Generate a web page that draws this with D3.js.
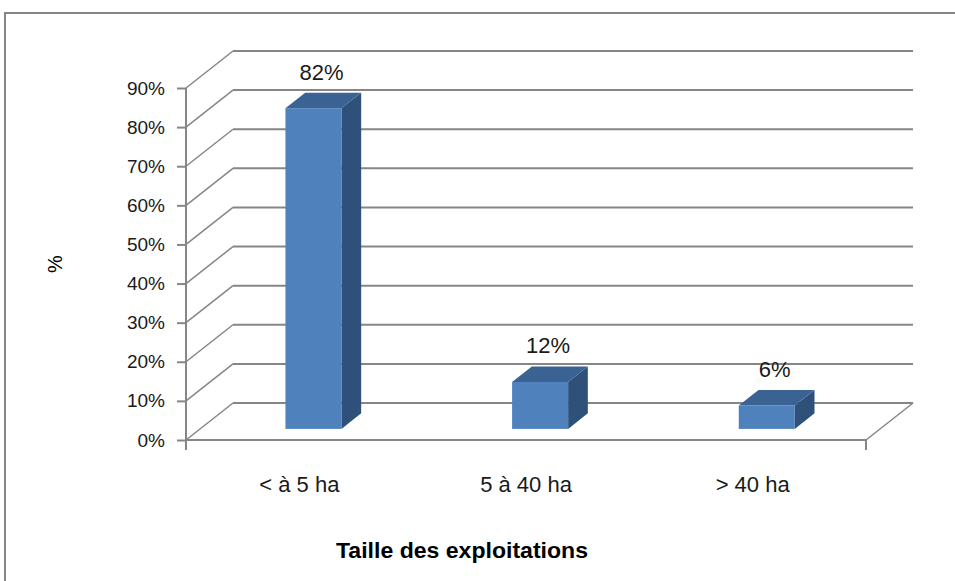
<!DOCTYPE html>
<html><head><meta charset="utf-8">
<script src="https://cdn.jsdelivr.net/npm/d3@7"></script>
<style>body{margin:0;background:#fff}svg{display:block}</style>
</head><body>
<svg id="c" width="955" height="581"></svg>
<script>
const categories = ["< à 5 ha", "5 à 40 ha", "> 40 ha"];
const values = [0.82, 0.12, 0.06];
const valueLabels = ["82%", "12%", "6%"];
const yTicks = [0, 0.1, 0.2, 0.3, 0.4, 0.5, 0.6, 0.7, 0.8, 0.9];
const xTitle = "Taille des exploitations";
const yTitle = "%";

const svg = d3.select("#c");
const grid = "#868686";
const font = "'Liberation Sans', Arial, sans-serif";

// outer border
svg.append("rect").attr("x",5).attr("y",13).attr("width",1000).attr("height",700)
  .attr("fill","none").attr("stroke",grid).attr("stroke-width",2);

const x = d3.scaleBand().domain(categories).range([186,866]).paddingInner(0).paddingOuter(0);
const y = d3.scaleLinear().domain([0,0.9]).range([440,88]);
const DX = 47, DY = -37;           // depth offset of back wall
const t0 = 0.3, t1 = 0.72;         // bar depth fractions
const barW = 56;

const g = svg.append("g");
yTicks.forEach(v=>{
  g.append("line").attr("x1",x.range()[0]+DX).attr("x2",x.range()[1]+DX)
   .attr("y1",y(v)+DY).attr("y2",y(v)+DY).attr("stroke",grid).attr("stroke-width",2);
  g.append("line").attr("x1",x.range()[0]).attr("x2",x.range()[0]+DX)
   .attr("y1",y(v)).attr("y2",y(v)+DY).attr("stroke",grid).attr("stroke-width",1.5);
});
g.append("line").attr("x1",x.range()[0]).attr("x2",x.range()[1]).attr("y1",y(0)).attr("y2",y(0))
 .attr("stroke",grid).attr("stroke-width",2);
g.append("line").attr("x1",x.range()[1]).attr("x2",x.range()[1]+DX).attr("y1",y(0)).attr("y2",y(0)+DY)
 .attr("stroke",grid).attr("stroke-width",1.5);
g.append("line").attr("x1",x.range()[1]).attr("x2",x.range()[1]).attr("y1",y(0)).attr("y2",y(0)+10)
 .attr("stroke",grid).attr("stroke-width",2);

const yAxis = d3.axisLeft(y).tickValues(yTicks).tickFormat(d3.format(".0%")).tickSize(9).tickPadding(12);
const ya = svg.append("g").attr("transform",`translate(${x.range()[0]},0)`).call(yAxis);
ya.select(".domain").attr("stroke",grid).attr("stroke-width",2).attr("d",`M0,${y(0.9)}V${y(0)+10}`);
ya.selectAll(".tick line").attr("stroke",grid).attr("stroke-width",2);
ya.selectAll(".tick text").attr("font-family",font).attr("font-size",19).attr("fill","#1a1a1a");

const bars = svg.append("g");
categories.forEach((c,i)=>{
  const cx = x(c)+x.bandwidth()/2 + DX*t0;
  const x0 = cx - barW/2, x1 = cx + barW/2;
  const yb = y(0) + DY*t0;
  const yt = y(values[i]) + DY*t0;
  const ddx = DX*(t1-t0), ddy = DY*(t1-t0);
  bars.append("path").attr("d",`M${x1},${yt}L${x1+ddx},${yt+ddy}L${x1+ddx},${yb+ddy}L${x1},${yb}Z`).attr("fill","#2F5079");
  bars.append("path").attr("d",`M${x0},${yt}L${x0+ddx},${yt+ddy}L${x1+ddx},${yt+ddy}L${x1},${yt}Z`).attr("fill","#3A6394");
  bars.append("rect").attr("x",x0).attr("y",yt).attr("width",barW).attr("height",yb-yt).attr("fill","#4F81BD");
  svg.append("text").attr("x",cx+8).attr("y",yt+ddy-13).attr("text-anchor","middle")
    .attr("font-family",font).attr("font-size",22).attr("fill","#1a1a1a").text(valueLabels[i]);
});

categories.forEach(c=>{
  svg.append("text").attr("x",x(c)+x.bandwidth()/2).attr("y",492).attr("text-anchor","middle")
    .attr("font-family",font).attr("font-size",22).attr("fill","#1a1a1a").text(c);
});
svg.append("text").attr("x",462).attr("y",558).attr("text-anchor","middle")
  .attr("font-family",font).attr("font-weight","bold").attr("font-size",22).attr("fill","#000")
  .attr("textLength",252).attr("lengthAdjust","spacingAndGlyphs").text(xTitle);
svg.append("text").attr("transform","translate(62,264) rotate(-90)").attr("text-anchor","middle")
  .attr("font-family",font).attr("font-size",20).attr("fill","#000").text(yTitle);
</script>
</body></html>
